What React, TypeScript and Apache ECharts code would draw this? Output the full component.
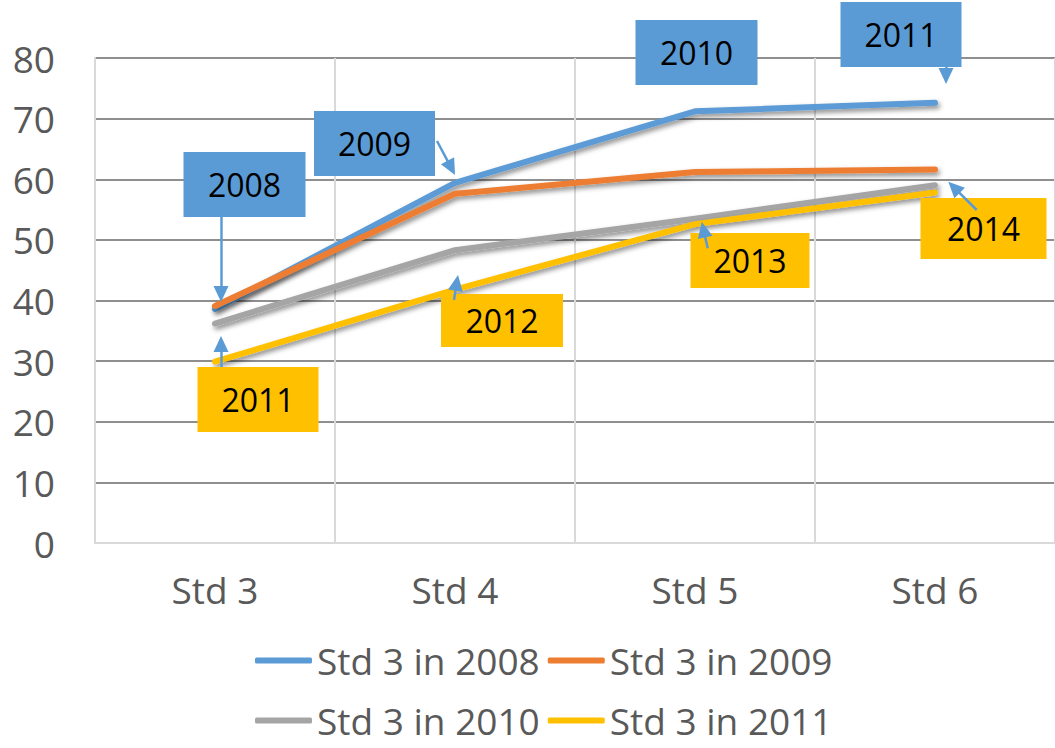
import React, { useEffect, useRef } from 'react';
import * as echarts from 'echarts';

const categories = ['Std 3', 'Std 4', 'Std 5', 'Std 6'];
const seriesNames = ['Std 3 in 2008', 'Std 3 in 2009', 'Std 3 in 2010', 'Std 3 in 2011'];
const values2008 = [38.6, 59.4, 71.2, 72.6];
const values2009 = [39.1, 57.6, 61.2, 61.6];
const values2010 = [36.2, 48.3, 53.5, 59.0];
const values2011 = [29.9, 41.8, 52.6, 57.8];
const blueCalloutYears = ['2008', '2009', '2010', '2011'];
const yellowCalloutYears = ['2011', '2012', '2013', '2014'];

const colors = ['#5B9BD5', '#ED7D31', '#A5A5A5', '#FFC000'];
const FONT = 'Open Sans';

// callout box placement (box centre relative to the point, box size, text centre from box top)
const blueBoxes = [
  { dx: 29.5, dy: -124.5, w: 122, h: 65, c: 32.5 },
  { dx: -80.5, dy: -39.4, w: 121, h: 65, c: 32.5 },
  { dx: 1.5, dy: -58.9, w: 122, h: 65, c: 32.5 },
  { dx: -34, dy: -68.4, w: 121, h: 65, c: 32.5 },
];
const yellowBoxes = [
  { dx: 43, dy: 37.8, w: 121, h: 65, c: 32.5 },
  { dx: 47, dy: 30.9, w: 122, h: 53, c: 33 },
  { dx: 55, dy: 36.4, w: 119, h: 55, c: 32 },
  { dx: 48.5, dy: 35.9, w: 126, h: 61, c: 33.5 },
];
// callout arrows: [from, tip] in pixels
const arrows: number[][][] = [
  [[221, 217], [221, 302]],
  [[437, 141], [455, 175]],
  [[946, 67], [946, 84]],
  [[221, 367], [221, 336]],
  [[454, 300], [458, 275]],
  [[707.7, 248.3], [701.7, 221.7]],
  [[976.7, 210], [948.3, 181.7]],
];
const HEAD = 16;

function calloutLabel(year: string, box: any, bg: string) {
  const lh = 2 * (box.h - box.c);
  const pt = box.h - lh;
  return {
    show: true,
    position: 'inside',
    offset: [box.dx, box.dy],
    formatter: year,
    backgroundColor: bg,
    width: box.w,
    lineHeight: lh,
    padding: [pt, 0, 0, 0],
    fontSize: 32,
    fontFamily: FONT,
    color: '#000',
    align: 'center',
    verticalAlign: 'middle',
  };
}

function arrowData() {
  return arrows.map(([from, tip]) => {
    const vx = tip[0] - from[0];
    const vy = tip[1] - from[1];
    const len = Math.sqrt(vx * vx + vy * vy);
    const k = (HEAD / 2) / len;
    return [
      { x: from[0], y: from[1] },
      { x: tip[0] - vx * k, y: tip[1] - vy * k },
    ];
  });
}

export default function App() {
  const ref = useRef<HTMLDivElement>(null);
  useEffect(() => {
    if (!ref.current) return;
    const chart = echarts.init(ref.current, null, { renderer: 'svg' });
    const lineStyle = (c: string) => ({
      color: c,
      width: 6,
      cap: 'round',
      join: 'round',
      shadowColor: 'rgba(0,0,0,0.45)',
      shadowBlur: 5,
      shadowOffsetX: 2,
      shadowOffsetY: 3,
    });
    const allValues = [values2008, values2009, values2010, values2011];
    const series: any[] = allValues.map((vals, si) => ({
      name: seriesNames[si],
      type: 'line',
      color: colors[si],
      symbol: 'circle',
      symbolSize: 0,
      showSymbol: true,
      lineStyle: lineStyle(colors[si]),
      itemStyle: { color: colors[si] },
      emphasis: { disabled: true },
      data: vals.map((v, i) => {
        if (si === 0) return { value: v, label: calloutLabel(blueCalloutYears[i], blueBoxes[i], '#5B9BD5') };
        if (si === 3) return { value: v, label: calloutLabel(yellowCalloutYears[i], yellowBoxes[i], '#FFC000') };
        return v;
      }),
    }));
    series[3].markLine = {
      silent: true,
      symbol: ['none', 'triangle'],
      symbolSize: [15, HEAD],
      lineStyle: { color: '#5B9BD5', width: 2.5, type: 'solid' },
      label: { show: false },
      emphasis: { disabled: true },
      data: arrowData(),
    };
    const gridColors = ['#D9D9D9', '#8F8F8F', '#8F8F8F', '#8F8F8F', '#8F8F8F', '#8F8F8F', '#8F8F8F', '#8F8F8F', '#8F8F8F'];
    const legendCommon = {
      left: 255,
      icon: 'roundRect',
      itemWidth: 57,
      itemHeight: 6,
      itemGap: 8,
      padding: 0,
      textStyle: { fontSize: 37, lineHeight: 30, color: '#595959', fontFamily: FONT },
    };
    chart.setOption({
      animation: false,
      textStyle: { fontFamily: FONT },
      grid: { left: 95, right: -3, top: 58, bottom: 205 },
      legend: [
        { ...legendCommon, top: 642, data: [seriesNames[0], seriesNames[1]] },
        { ...legendCommon, top: 702, data: [seriesNames[2], seriesNames[3]] },
      ],
      xAxis: {
        type: 'category',
        data: categories,
        boundaryGap: true,
        axisLine: { lineStyle: { color: '#D9D9D9', width: 2 } },
        axisTick: { show: false },
        axisLabel: { fontSize: 37, color: '#595959', margin: 28, fontFamily: FONT },
        splitLine: { show: true, lineStyle: { color: '#D9D9D9', width: 2 } },
      },
      yAxis: {
        type: 'value',
        min: 0,
        max: 80,
        interval: 10,
        axisLine: { show: true, lineStyle: { color: '#D9D9D9', width: 2 } },
        axisTick: { show: false },
        axisLabel: { fontSize: 37, color: '#595959', margin: 40, fontFamily: FONT },
        splitLine: { show: true, lineStyle: { color: gridColors, width: 2 } },
      },
      series,
    });
    return () => chart.dispose();
  }, []);
  return (
    <div
      ref={ref}
      style={{ position: 'fixed', left: 0, top: 0, width: 1055, height: 748, background: '#fff' }}
    />
  );
}
